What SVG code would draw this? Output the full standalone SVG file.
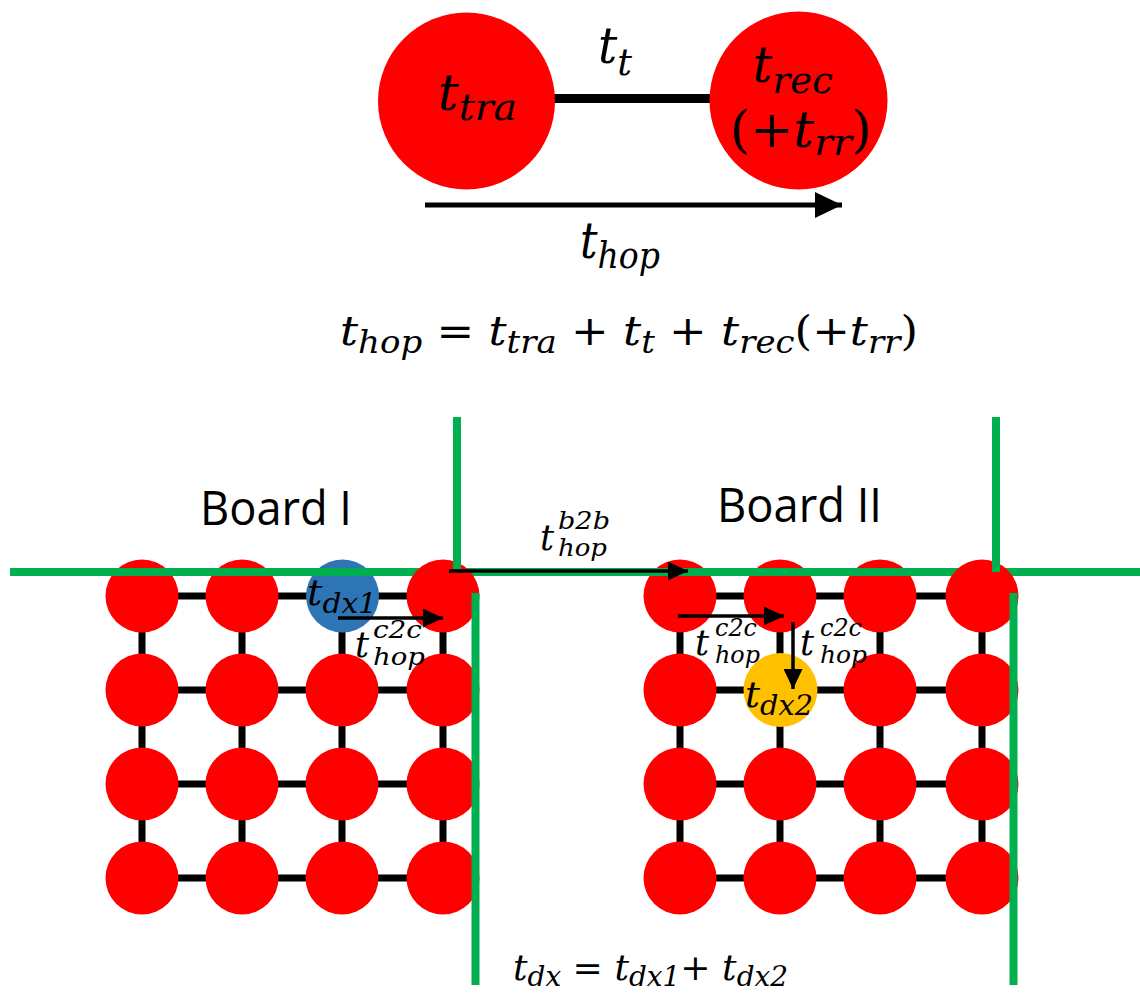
<svg xmlns="http://www.w3.org/2000/svg" width="1140" height="993" viewBox="0 0 1140 993">
<defs>
<style>
.red{fill:#FF0000}
.blue{fill:#2E75B6}
.yel{fill:#FFC000}
.grid{stroke:#000;stroke-width:7;fill:none}
.grn{stroke:#00B050;stroke-width:8;fill:none}
.m{font-family:"DejaVu Serif",serif;font-style:italic;fill:#000}
.u{font-style:normal}
.lbl{font-family:"Open Sans","Liberation Sans",sans-serif;fill:#000}
.arr{stroke:#000;fill:none}
</style>
<marker id="ahBig" markerWidth="27" markerHeight="26" refX="27" refY="13" orient="auto" markerUnits="userSpaceOnUse"><path d="M0,0 L27,13 L0,26 z" fill="#000"/></marker>
<marker id="ahSm" markerWidth="20" markerHeight="19" refX="20" refY="9.5" orient="auto" markerUnits="userSpaceOnUse"><path d="M0,0 L20,9.5 L0,19 z" fill="#000"/></marker>
</defs>
<rect width="1140" height="993" fill="#fff"/>

<!-- top hop diagram -->
<g id="connectors-top">
<line x1="550" y1="98.5" x2="715" y2="98.5" stroke="#000" stroke-width="9"/>
<line class="arr" x1="425" y1="205" x2="842" y2="205" stroke-width="5" marker-end="url(#ahBig)"/>
</g>
<g id="node-tra"><circle class="red" cx="466.5" cy="101" r="88.5"/>
<text class="m" x="438" y="110" font-size="50" textLength="79" lengthAdjust="spacingAndGlyphs">t<tspan font-size="38" dy="10">tra</tspan></text></g>
<g id="node-rec"><circle class="red" cx="798.5" cy="100.5" r="89"/>
<text class="m" x="753" y="82" font-size="50" textLength="80" lengthAdjust="spacingAndGlyphs">t<tspan font-size="38" dy="11">rec</tspan></text>
<text class="m" x="730" y="147" font-size="50" textLength="142" lengthAdjust="spacingAndGlyphs"><tspan class="u">(+</tspan>t<tspan font-size="38" dy="8">rr</tspan><tspan class="u" dy="-8">)</tspan></text></g>
<text class="m" x="598" y="63" font-size="50" textLength="34" lengthAdjust="spacingAndGlyphs">t<tspan font-size="38" dy="12">t</tspan></text>
<text class="m" x="580" y="258" font-size="50" textLength="80" lengthAdjust="spacingAndGlyphs">t<tspan font-size="38" dy="10">hop</tspan></text>
<text class="m" x="340" y="345" font-size="41" textLength="578" lengthAdjust="spacingAndGlyphs">t<tspan font-size="31" dy="8">hop</tspan><tspan class="u" dy="-8"> = </tspan>t<tspan font-size="31" dy="8">tra</tspan><tspan class="u" dy="-8"> + </tspan>t<tspan font-size="31" dy="8">t</tspan><tspan class="u" dy="-8"> + </tspan>t<tspan font-size="31" dy="8">rec</tspan><tspan class="u" dy="-8">(+</tspan>t<tspan font-size="31" dy="8">rr</tspan><tspan class="u" dy="-8">)</tspan></text>

<!-- board labels -->
<text class="lbl" x="200" y="525" font-size="47" textLength="152" lengthAdjust="spacingAndGlyphs">Board I</text>
<text class="lbl" x="717" y="522" font-size="47" textLength="165" lengthAdjust="spacingAndGlyphs">Board II</text>

<!-- grid links -->
<g id="connectors-grid" class="grid">
<path d="M142 596H443M142 690H443M142 784H443M142 878H443M142 596V878M242 596V878M342 596V878M443 596V878"/>
<path d="M680 596H982M680 690H982M680 784H982M680 878H982M680 596V878M780 596V878M880 596V878M982 596V878"/>
</g>

<!-- Board I nodes -->
<g id="b1-r1c1"><circle class="red" cx="142" cy="596" r="36.5"/></g>
<g id="b1-r1c2"><circle class="red" cx="242" cy="596" r="36.5"/></g>
<g id="b1-r1c3"><circle class="blue" cx="342.5" cy="596" r="36.5"/></g>
<g id="b1-r2c1"><circle class="red" cx="142" cy="690" r="36.5"/></g>
<g id="b1-r2c2"><circle class="red" cx="242" cy="690" r="36.5"/></g>
<g id="b1-r2c3"><circle class="red" cx="342" cy="690" r="36.5"/></g>
<g id="b1-r2c4"><circle class="red" cx="443" cy="690" r="36.5"/></g>
<g id="b1-r3c1"><circle class="red" cx="142" cy="784" r="36.5"/></g>
<g id="b1-r3c2"><circle class="red" cx="242" cy="784" r="36.5"/></g>
<g id="b1-r3c3"><circle class="red" cx="342" cy="784" r="36.5"/></g>
<g id="b1-r3c4"><circle class="red" cx="443" cy="784" r="36.5"/></g>
<g id="b1-r4c1"><circle class="red" cx="142" cy="878" r="36.5"/></g>
<g id="b1-r4c2"><circle class="red" cx="242" cy="878" r="36.5"/></g>
<g id="b1-r4c3"><circle class="red" cx="342" cy="878" r="36.5"/></g>
<g id="b1-r4c4"><circle class="red" cx="443" cy="878" r="36.5"/></g>

<!-- Board II nodes -->
<g id="b2-r1c1"><circle class="red" cx="680" cy="596" r="36.5"/></g>
<g id="b2-r1c2"><circle class="red" cx="780" cy="596" r="36.5"/></g>
<g id="b2-r1c3"><circle class="red" cx="880" cy="596" r="36.5"/></g>
<g id="b2-r2c1"><circle class="red" cx="680" cy="690" r="36.5"/></g>
<g id="b2-r2c2"><circle class="yel" cx="780.5" cy="690" r="37"/></g>
<g id="b2-r2c3"><circle class="red" cx="880" cy="690" r="36.5"/></g>
<g id="b2-r2c4"><circle class="red" cx="982" cy="690" r="36.5"/></g>
<g id="b2-r3c1"><circle class="red" cx="680" cy="784" r="36.5"/></g>
<g id="b2-r3c2"><circle class="red" cx="780" cy="784" r="36.5"/></g>
<g id="b2-r3c3"><circle class="red" cx="880" cy="784" r="36.5"/></g>
<g id="b2-r3c4"><circle class="red" cx="982" cy="784" r="36.5"/></g>
<g id="b2-r4c1"><circle class="red" cx="680" cy="878" r="36.5"/></g>
<g id="b2-r4c2"><circle class="red" cx="780" cy="878" r="36.5"/></g>
<g id="b2-r4c3"><circle class="red" cx="880" cy="878" r="36.5"/></g>
<g id="b2-r4c4"><circle class="red" cx="982" cy="878" r="36.5"/></g>

<!-- board border lines -->
<path class="grn" d="M10 572H1140"/>
<g id="b1-r1c4"><circle class="red" cx="443" cy="596" r="36.5"/></g>
<g id="b2-r1c4"><circle class="red" cx="982" cy="596" r="36.5"/></g>
<path class="grn" d="M457 417V572M475.5 593V985M996 417V572M1013.5 593V985"/>

<!-- arrows -->
<g id="connectors-arrows" class="arr" stroke-width="3.5">
<line x1="449" y1="571" x2="688" y2="571" marker-end="url(#ahSm)"/>
<line x1="338" y1="618" x2="443" y2="618" marker-end="url(#ahSm)"/>
<line x1="678" y1="616" x2="784" y2="616" marker-end="url(#ahSm)"/>
<line x1="793" y1="622" x2="793" y2="689" marker-end="url(#ahSm)"/>
</g>

<!-- labels -->
<text class="m" x="307" y="605" font-size="35" textLength="70" lengthAdjust="spacingAndGlyphs">t<tspan font-size="27" dy="8">dx1</tspan></text>
<text class="m" x="745" y="707" font-size="35" textLength="68" lengthAdjust="spacingAndGlyphs">t<tspan font-size="27" dy="8">dx2</tspan></text>

<text class="m" x="355" y="657" font-size="35">t</text>
<text class="m" x="373" y="638" font-size="24" textLength="49" lengthAdjust="spacingAndGlyphs">c2c</text>
<text class="m" x="373" y="665" font-size="24" textLength="52" lengthAdjust="spacingAndGlyphs">hop</text>

<text class="m" x="695" y="655" font-size="35">t</text>
<text class="m" x="715" y="636" font-size="24" textLength="42" lengthAdjust="spacingAndGlyphs">c2c</text>
<text class="m" x="715" y="663" font-size="24" textLength="45" lengthAdjust="spacingAndGlyphs">hop</text>

<text class="m" x="800" y="655" font-size="35">t</text>
<text class="m" x="820" y="636" font-size="24" textLength="42" lengthAdjust="spacingAndGlyphs">c2c</text>
<text class="m" x="820" y="663" font-size="24" textLength="47" lengthAdjust="spacingAndGlyphs">hop</text>

<text class="m" x="540" y="550" font-size="35">t</text>
<text class="m" x="558" y="529" font-size="24" textLength="52" lengthAdjust="spacingAndGlyphs">b2b</text>
<text class="m" x="558" y="556" font-size="24" textLength="49" lengthAdjust="spacingAndGlyphs">hop</text>

<text class="m" x="513" y="980" font-size="35" textLength="275" lengthAdjust="spacingAndGlyphs">t<tspan font-size="27" dy="6">dx</tspan><tspan class="u" dy="-6"> = </tspan>t<tspan font-size="27" dy="6">dx1</tspan><tspan class="u" dy="-6">+ </tspan>t<tspan font-size="27" dy="6">dx2</tspan></text>
</svg>
